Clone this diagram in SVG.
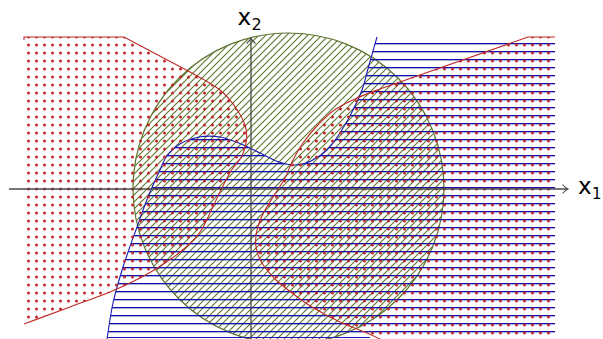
<svg xmlns="http://www.w3.org/2000/svg" width="603" height="339" viewBox="0 0 603 339">
<style>
.disk{fill:url(#nelines);stroke:#5c7430;stroke-width:1.2}
.redfill{fill:url(#dots);stroke:none}
.bluefill{fill:url(#hlines);stroke:none}
.redline{fill:none;stroke:#c02828;stroke-width:1.1}
.blueline{fill:none;stroke:#1a1ab8;stroke-width:1.1}
.axis{fill:none;stroke:#484848;stroke-width:1.3;marker-end:url(#arr)}
.lbl{font-family:"DejaVu Sans",sans-serif;fill:#000}
</style>
<defs>
<pattern id="dots" patternUnits="userSpaceOnUse" width="8" height="8"><circle cx="4.5" cy="5" r="1.5" fill="#c02828"/></pattern>
<pattern id="hlines" patternUnits="userSpaceOnUse" width="8" height="8"><rect x="0" y="3" width="8" height="1.35" fill="#1212a8"/></pattern>
<pattern id="nelines" patternUnits="userSpaceOnUse" width="7" height="7"><path d="M-1,8 L8,-1 M-1,1 L1,-1 M6,8 L8,6" stroke="#5e7a2c" stroke-width="1.15"/></pattern>
<marker id="arr" markerUnits="userSpaceOnUse" viewBox="-6 -6 8 12" markerWidth="8" markerHeight="12" refX="0" refY="0" orient="auto" overflow="visible"><path d="M-5,-4.5 Q-2,-1 0.5,0 Q-2,1 -5,4.5" fill="none" stroke="#484848" stroke-width="1.1"/></marker>
</defs>
<rect width="603" height="339" fill="#fff"/>
<g id="disk">
<circle class="disk" cx="288.5" cy="188.5" r="155.5"/>
</g>
<g id="blue-region">
<path class="bluefill" d="M377,37 C374.3,46.3 371.5,56.2 369,65 C366.5,73.8 365,81.8 362,90 C359,98.2 354.7,106.8 351,114 C347.3,121.2 344,127 340,133 C336,139 331.8,145.3 327,150 C322.2,154.7 316.2,158.5 311,161 C305.8,163.5 301.3,164.8 296,165 C290.7,165.2 285,164 279,162 C273,160 266.3,156 260,153 C253.7,150 247.7,146.7 241,144 C234.3,141.3 227,138.2 220,137 C213,135.8 205.7,135.8 199,137 C192.3,138.2 185.3,140.8 180,144 C174.7,147.2 170.5,151.3 167,156 C163.5,160.7 162.2,165.2 159,172 C155.8,178.8 151.7,187.8 148,197 C144.3,206.2 141.2,215.3 137,227 C132.8,238.7 127,254.3 123,267 C119,279.7 115.7,291 113,303 C110.3,315 109,327 107,339 L555,339 L555,37 Z"/>
<path class="blueline" d="M377,37 C374.3,46.3 371.5,56.2 369,65 C366.5,73.8 365,81.8 362,90 C359,98.2 354.7,106.8 351,114 C347.3,121.2 344,127 340,133 C336,139 331.8,145.3 327,150 C322.2,154.7 316.2,158.5 311,161 C305.8,163.5 301.3,164.8 296,165 C290.7,165.2 285,164 279,162 C273,160 266.3,156 260,153 C253.7,150 247.7,146.7 241,144 C234.3,141.3 227,138.2 220,137 C213,135.8 205.7,135.8 199,137 C192.3,138.2 185.3,140.8 180,144 C174.7,147.2 170.5,151.3 167,156 C163.5,160.7 162.2,165.2 159,172 C155.8,178.8 151.7,187.8 148,197 C144.3,206.2 141.2,215.3 137,227 C132.8,238.7 127,254.3 123,267 C119,279.7 115.7,291 113,303 C110.3,315 109,327 107,339"/>
<path class="blueline" d="M107.5,337.5 L370,337.5"/>
</g>
<g id="red-left-region">
<path class="redfill" d="M24,37 L124,37 L190,72 C206,80.8 212.3,84 220,90 C227.7,96 231.8,102.2 236,108 C240.2,113.8 243.25,119.7 245,125 C246.75,130.3 247,134.8 246.5,140 C246,145.2 244.6,150.8 242,156 C239.4,161.2 234.7,165 231,171 C227.3,177 223.5,185 220,192 C216.5,199 213.3,206.3 210,213 C206.7,219.7 204.2,226.2 200,232 C195.8,237.8 190.8,242.8 185,248 C179.2,253.2 172.5,258 165,263 C157.5,268 149.2,273.2 140,278 C130.8,282.8 121.7,287.2 110,292 C98.3,296.8 84.3,301.7 70,307 C55.7,312.3 39.3,318.3 24,324 Z"/>
<path class="redline" d="M24,40 L24,37 L124,37 L190,72 C206,80.8 212.3,84 220,90 C227.7,96 231.8,102.2 236,108 C240.2,113.8 243.25,119.7 245,125 C246.75,130.3 247,134.8 246.5,140 C246,145.2 244.6,150.8 242,156 C239.4,161.2 234.7,165 231,171 C227.3,177 223.5,185 220,192 C216.5,199 213.3,206.3 210,213 C206.7,219.7 204.2,226.2 200,232 C195.8,237.8 190.8,242.8 185,248 C179.2,253.2 172.5,258 165,263 C157.5,268 149.2,273.2 140,278 C130.8,282.8 121.7,287.2 110,292 C98.3,296.8 84.3,301.7 70,307 C55.7,312.3 39.3,318.3 24,324"/>
</g>
<g id="red-right-region">
<path class="redfill" d="M555,37 L528,37 L380,89 C371.7,92.1 362.8,95.3 355,99 C347.2,102.7 339.5,106.3 333,111 C326.5,115.7 321,121.7 316,127 C311,132.3 306.8,137.5 303,143 C299.2,148.5 296,154.2 293,160 C290,165.8 288,172.3 285,178 C282,183.7 278.5,188.3 275,194 C271.5,199.7 267,206 264,212 C261,218 258.3,224.2 257,230 C255.7,235.8 255.2,241.5 256,247 C256.8,252.5 258.8,257.7 262,263 C265.2,268.3 270,274 275,279 C280,284 285.8,288.3 292,293 C298.2,297.7 304,302.2 312,307 C320,311.8 330.8,317.7 340,322 C349.2,326.3 360,330 367,333 C374,336 377,337.7 382,340 L555,340 Z"/>
<path class="redline" d="M555,37 L528,37 L380,89 C371.7,92.1 362.8,95.3 355,99 C347.2,102.7 339.5,106.3 333,111 C326.5,115.7 321,121.7 316,127 C311,132.3 306.8,137.5 303,143 C299.2,148.5 296,154.2 293,160 C290,165.8 288,172.3 285,178 C282,183.7 278.5,188.3 275,194 C271.5,199.7 267,206 264,212 C261,218 258.3,224.2 257,230 C255.7,235.8 255.2,241.5 256,247 C256.8,252.5 258.8,257.7 262,263 C265.2,268.3 270,274 275,279 C280,284 285.8,288.3 292,293 C298.2,297.7 304,302.2 312,307 C320,311.8 330.8,317.7 340,322 C349.2,326.3 360,330 367,333 C374,336 377,337.7 382,340"/>
</g>
<g id="connectors">
<path id="axis-x1" class="axis" d="M9,189 L567.5,189"/>
<path id="axis-x2" class="axis" d="M251,339 L251,38.5"/>
</g>
<g id="label-x1"><text class="lbl" x="578" y="194" font-size="23">x</text><text class="lbl" x="592" y="199" font-size="15">1</text></g>
<g id="label-x2"><text class="lbl" x="237.5" y="25" font-size="23">x</text><text class="lbl" x="251.5" y="29.5" font-size="16">2</text></g>
</svg>
